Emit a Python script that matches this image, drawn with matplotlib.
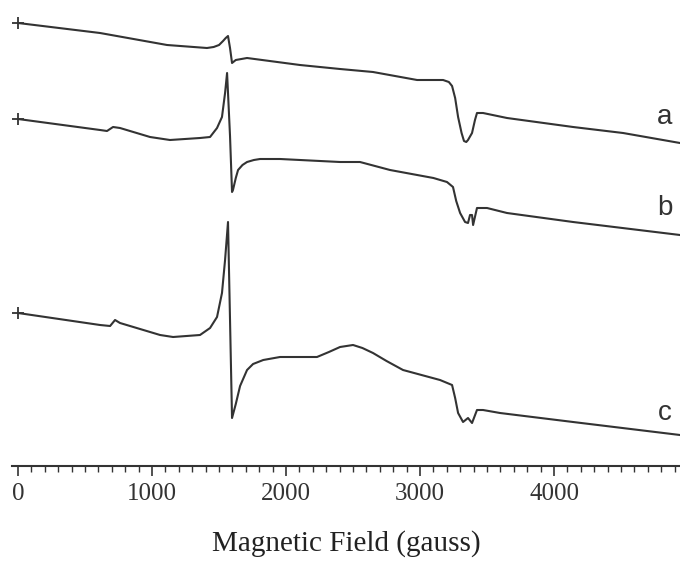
import matplotlib
matplotlib.use("Agg")
from matplotlib import pyplot as plt
from matplotlib.ticker import MultipleLocator

# field values (gauss) and signal (arbitrary units)
a_field = [0, 612, 1112, 1410, 1460, 1500, 1530, 1550, 1567, 1582, 1597, 1625,
           1709, 2104, 2403, 2649, 2978, 3100, 3172, 3215, 3239, 3262, 3284,
           3310, 3328, 3345, 3358, 3388, 3410, 3425, 3470, 3649, 4142, 4515,
           4940]
a_signal = [443, 433, 421, 418, 419, 421, 425, 428, 430, 418, 403, 406,
            408, 401, 397, 394, 386, 386, 386, 384, 380, 368, 349,
            333, 325, 324, 326, 333, 346, 353, 353, 348, 339, 333,
            323]

b_field = [0, 612, 664, 709, 761, 985, 1134, 1358, 1433, 1485, 1522, 1545,
           1560, 1582, 1597, 1604, 1625, 1642, 1675, 1709, 1760, 1806, 1955,
           2403, 2552, 2776, 3100, 3201, 3246, 3270, 3299, 3336, 3358, 3373,
           3388, 3396, 3425, 3500, 3649, 4142, 4940]
b_signal = [347, 336, 335, 339, 338, 329, 326, 328, 329, 338, 349, 373,
            393, 330, 274, 276, 288, 296, 301, 304, 306, 307, 307,
            304, 304, 296, 288, 284, 279, 265, 253, 244, 243, 251,
            251, 241, 258, 258, 253, 244, 231]

c_field = [0, 612, 687, 724, 761, 1060, 1157, 1358, 1433, 1485, 1522, 1545,
           1567, 1582, 1597, 1625, 1657, 1709, 1754, 1830, 1955, 2231, 2320,
           2403, 2500, 2570, 2649, 2750, 2873, 3149, 3239, 3262, 3284, 3321,
           3358, 3388, 3425, 3470, 3597, 4142, 4940]
c_signal = [153, 141, 140, 146, 143, 131, 129, 131, 138, 149, 173, 206,
            244, 146, 48, 62, 80, 96, 102, 106, 109, 109, 114,
            119, 121, 118, 113, 105, 96, 86, 81, 68, 53, 44,
            48, 43, 56, 56, 53, 44, 31]

trace_names = ["a", "b", "c"]
label_pos = [(4828, 349), (4828, 258), (4828, 53)]

fig = plt.figure(figsize=(6.8, 5.62), dpi=100)
ax = fig.add_axes([12 / 680, 96 / 562, 1 - 12 / 680, 1 - 96 / 562])

line_color = "#333333"
for xs, ys in [(a_field, a_signal), (b_field, b_signal), (c_field, c_signal)]:
    ax.plot(xs, ys, color=line_color, linewidth=1.5)
    ax.plot(xs[0], ys[0], marker="+", markersize=9, color=line_color,
            markeredgewidth=1.3)

for name, (x, y) in zip(trace_names, label_pos):
    ax.text(x, y, name, fontsize=20, family="Liberation Sans",
            ha="center", va="center", color="#333333")

ax.set_xlim(-45, 4940)
ax.set_ylim(0, 466)

for s in ["top", "right", "left"]:
    ax.spines[s].set_visible(False)
ax.spines["bottom"].set_linewidth(1.5)
ax.spines["bottom"].set_color("#333333")
ax.set_yticks([])

ax.xaxis.set_major_locator(MultipleLocator(1000))
ax.xaxis.set_minor_locator(MultipleLocator(100))
ax.set_xticks([0, 1000, 2000, 3000, 4000])
ax.tick_params(axis="x", which="major", length=7, width=1.2, direction="out",
               pad=5, labelsize=18, colors="#333333")
ax.tick_params(axis="x", which="minor", length=4.5, width=1.0,
               direction="out", colors="#333333")
for lbl in ax.get_xticklabels():
    lbl.set_family("Liberation Serif")

ax.set_xlabel("Magnetic Field (gauss)", fontsize=21, family="Liberation Serif",
              labelpad=18, color="#222222")

fig.savefig("out.png", dpi=100)
